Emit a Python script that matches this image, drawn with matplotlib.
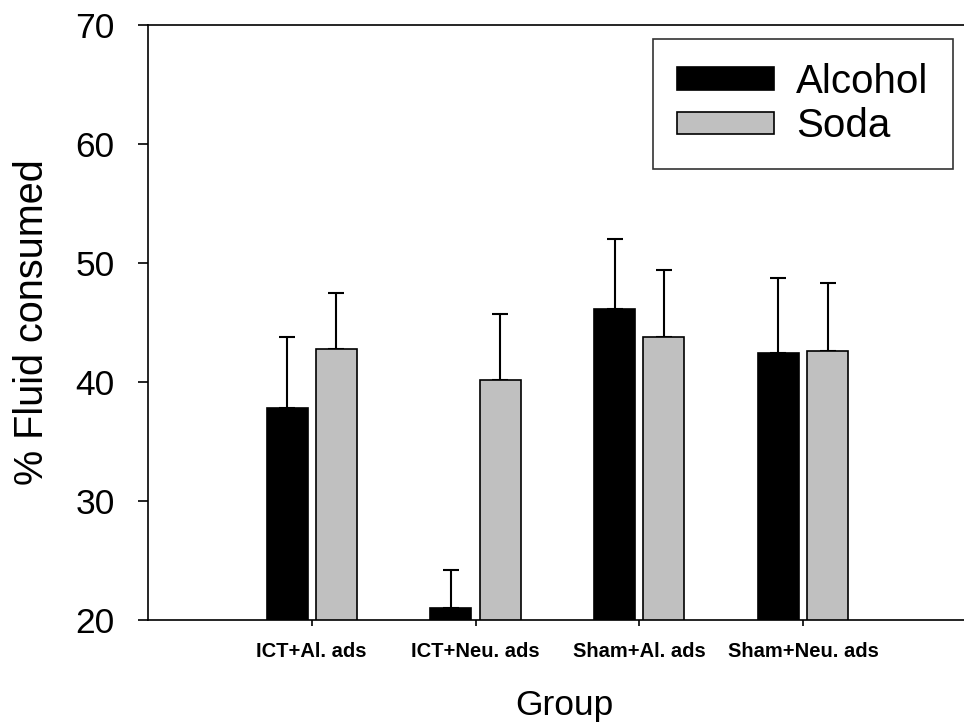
import numpy as np
import matplotlib.pyplot as plt

# ----- Data -----
groups = ['ICT+Al. ads', 'ICT+Neu. ads', 'Sham+Al. ads', 'Sham+Neu. ads']
alcohol = [37.8, 21.0, 46.1, 42.4]
alcohol_err = [6.0, 3.2, 5.9, 6.3]
soda = [42.8, 40.2, 43.8, 42.6]
soda_err = [4.7, 5.5, 5.6, 5.7]

plt.rcParams['font.family'] = ['Liberation Sans', 'DejaVu Sans']

fig = plt.figure(figsize=(9.64, 7.27), dpi=100)
ax = fig.add_axes([0.1535, 0.147, 0.846, 0.819])

x = np.arange(1, len(groups) + 1)
w = 0.25
off = 0.15

ax.bar(x - off, alcohol, w, color='black', edgecolor='black',
       linewidth=1.2, label='Alcohol', zorder=2)
ax.bar(x + off, soda, w, color='#c0c0c0', edgecolor='black',
       linewidth=1.2, label='Soda', zorder=2)

# upward-only error bars
ax.errorbar(x - off, alcohol, yerr=[np.zeros(4), alcohol_err], fmt='none',
            ecolor='black', elinewidth=1.5, capsize=5.5, capthick=1.5, zorder=1)
ax.errorbar(x + off, soda, yerr=[np.zeros(4), soda_err], fmt='none',
            ecolor='black', elinewidth=1.5, capsize=5.5, capthick=1.5, zorder=1)

ax.set_ylim(20, 70)
ax.set_xlim(0, 4.98)
ax.set_yticks([20, 30, 40, 50, 60, 70])
ax.set_xticks(x)
ax.set_xticklabels(groups, fontsize=14.5, fontweight='bold',
                   family=['Liberation Sans Narrow', 'Liberation Sans'])
ax.tick_params(axis='y', labelsize=25.5, direction='out', length=7, width=1.2, pad=17)
ax.tick_params(axis='x', direction='out', length=4, width=1.2, pad=12)

ax.spines['right'].set_visible(False)
for s in ['left', 'bottom', 'top']:
    ax.spines[s].set_linewidth(1.2)

ax.set_ylabel('% Fluid consumed', fontsize=28.5)
ax.yaxis.set_label_coords(-0.119, 0.5)
ax.set_xlabel('Group', fontsize=25.5)
ax.xaxis.set_label_coords(0.51, -0.115)

leg = ax.legend(loc='upper right', bbox_to_anchor=(0.9865, 0.9765), fontsize=29,
                borderaxespad=0, frameon=True, fancybox=False, edgecolor='black',
                handlelength=2.4, handleheight=0.47, borderpad=0.6,
                labelspacing=0.15, handletextpad=0.55)
leg.get_frame().set_linewidth(1.2)

fig.savefig('out.png', dpi=100)
